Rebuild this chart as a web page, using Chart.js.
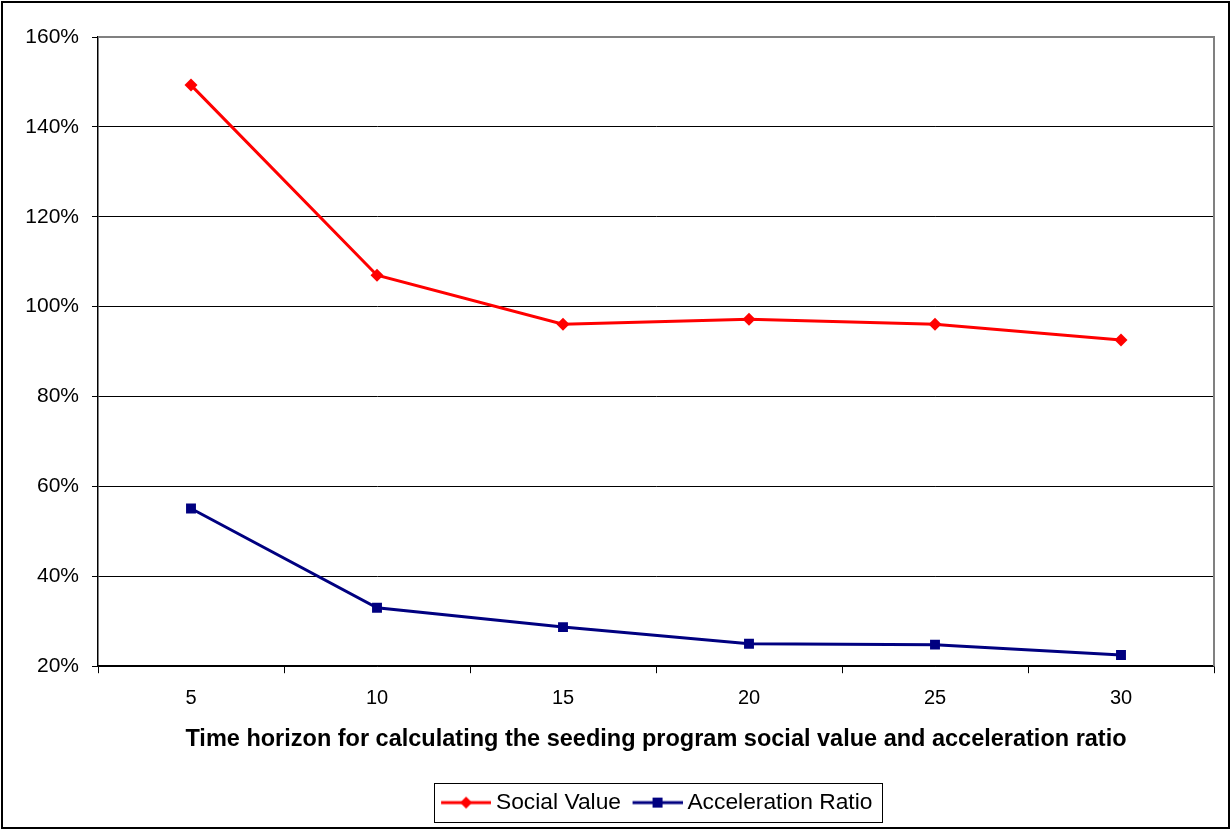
<!DOCTYPE html>
<html>
<head>
<meta charset="utf-8">
<script src="https://cdn.jsdelivr.net/npm/chart.js@4/dist/chart.umd.min.js"></script>
<style>
  html, body { margin: 0; padding: 0; background: #fff; }
  #wrap { width: 1231px; height: 829px; position: relative; }
</style>
</head>
<body>
<div id="wrap"><canvas id="c"></canvas></div>
<script>
// Time horizon (years) and the two series, in percent
const horizons = ['5', '10', '15', '20', '25', '30'];
const socialValue = [149.3, 107.0, 96.1, 97.2, 96.1, 92.6];
const accelerationRatio = [55.1, 33.0, 28.7, 25.0, 24.8, 22.5];
const yTicks = [20, 40, 60, 80, 100, 120, 140, 160];

const FONT = '"Liberation Sans", Arial, sans-serif';
const RED = '#FF0000';
const NAVY = '#000080';

// Legend swatch: a short line segment with the series marker in the middle
// (left 8px transparent so the segment sits close to its label)
function swatch(color, shape) {
  const c = document.createElement('canvas');
  c.width = 58; c.height = 16;
  const g = c.getContext('2d');
  g.strokeStyle = color; g.lineWidth = 3;
  g.beginPath(); g.moveTo(8, 8); g.lineTo(58, 8); g.stroke();
  g.fillStyle = color;
  g.beginPath();
  if (shape === 'diamond') {
    g.moveTo(27, 8); g.lineTo(33, 2); g.lineTo(39, 8); g.lineTo(33, 14);
  } else {
    g.rect(28, 3, 10, 10);
  }
  g.closePath(); g.fill();
  return c;
}

const frame = {
  id: 'frame',
  beforeDraw(chart) {
    const { ctx, width, height } = chart;
    ctx.save();
    ctx.fillStyle = '#fff';
    ctx.fillRect(0, 0, width, height);
    ctx.restore();
  },
  afterLayout(chart) {
    // centre the legend under the plot area rather than the whole canvas
    const lg = chart.legend, a = chart.chartArea;
    if (!lg || !a) return;
    const shift = (a.left + a.right) / 2 - (lg.left + lg.right) / 2;
    lg.left += shift;
    lg.right += shift;
  },
  beforeDatasetsDraw(chart) {
    const { ctx, chartArea: a } = chart;
    ctx.save();
    ctx.strokeStyle = '#808080';
    ctx.lineWidth = 2;
    ctx.beginPath();
    ctx.moveTo(a.left, a.top);
    ctx.lineTo(a.right, a.top);
    ctx.lineTo(a.right, a.bottom);
    ctx.stroke();
    ctx.restore();
  },
  afterDraw(chart) {
    const { ctx, width, height, legend } = chart;
    ctx.save();
    ctx.strokeStyle = '#000';
    ctx.lineWidth = 2;
    ctx.strokeRect(2, 2, width - 4, height - 3);
    // box around the legend items
    const hb = legend.legendHitBoxes;
    if (hb && hb.length) {
      const l = Math.min(...hb.map(b => b.left)) - 6;
      const r = Math.max(...hb.map(b => b.left + b.width)) + 9;
      const cy = hb[0].top + hb[0].height / 2;
      ctx.lineWidth = 1;
      ctx.strokeRect(Math.round(l) + 0.5, Math.round(cy - 19.5) + 0.5, Math.round(r - l), 39);
    }
    ctx.restore();
  }
};

new Chart(document.getElementById('c'), {
  type: 'line',
  data: {
    labels: horizons,
    datasets: [
      {
        label: 'Social Value',
        data: socialValue,
        borderColor: RED,
        backgroundColor: RED,
        borderWidth: 3,
        pointStyle: 'rectRot',
        pointRadius: 6.5,
        pointBorderWidth: 0,
        tension: 0
      },
      {
        label: 'Acceleration Ratio',
        data: accelerationRatio,
        borderColor: NAVY,
        backgroundColor: NAVY,
        borderWidth: 3,
        pointStyle: 'rect',
        pointRadius: 7,
        pointBorderWidth: 0,
        tension: 0
      }
    ]
  },
  options: {
    responsive: true,
    maintainAspectRatio: false,
    animation: false,
    layout: { padding: { left: 0, right: 17, top: 37, bottom: 5 } },
    plugins: {
      tooltip: { enabled: false },
      legend: {
        position: 'bottom',
        labels: {
          usePointStyle: true,
          pointStyleWidth: 45,
          padding: 10,
          color: '#000',
          font: { family: FONT, size: 22.8 },
          generateLabels(chart) {
            return chart.data.datasets.map((ds, i) => ({
              text: ds.label,
              pointStyle: swatch(ds.borderColor, i === 0 ? 'diamond' : 'square'),
              fillStyle: ds.borderColor,
              strokeStyle: ds.borderColor,
              lineWidth: 0,
              datasetIndex: i,
              fontColor: '#000'
            }));
          }
        }
      }
    },
    scales: {
      x: {
        type: 'category',
        offset: true,
        grid: {
          offset: true,
          drawOnChartArea: false,
          drawTicks: true,
          tickLength: 7,
          color: '#000',
          lineWidth: 1
        },
        border: { color: '#000', width: 1.5 },
        ticks: { color: '#000', padding: 13, font: { family: FONT, size: 20 } },
        title: {
          display: true,
          text: 'Time horizon for calculating the seeding program social value and acceleration ratio',
          color: '#000',
          font: { family: FONT, size: 23.5, weight: 'bold' },
          padding: { top: 0, bottom: 28 }
        },
        afterFit(scale) { scale.height = 115; }
      },
      y: {
        min: 20,
        max: 160,
        afterBuildTicks(scale) { scale.ticks = yTicks.map(v => ({ value: v })); },
        grid: { color: '#000', lineWidth: 1, tickLength: 6, drawTicks: true },
        border: { color: '#000', width: 1.5 },
        ticks: {
          color: '#000',
          padding: 13,
          font: { family: FONT, size: 21 },
          callback: v => v + '%'
        },
        afterFit(scale) { scale.width = 98; }
      }
    }
  },
  plugins: [frame]
});
</script>
</body>
</html>
